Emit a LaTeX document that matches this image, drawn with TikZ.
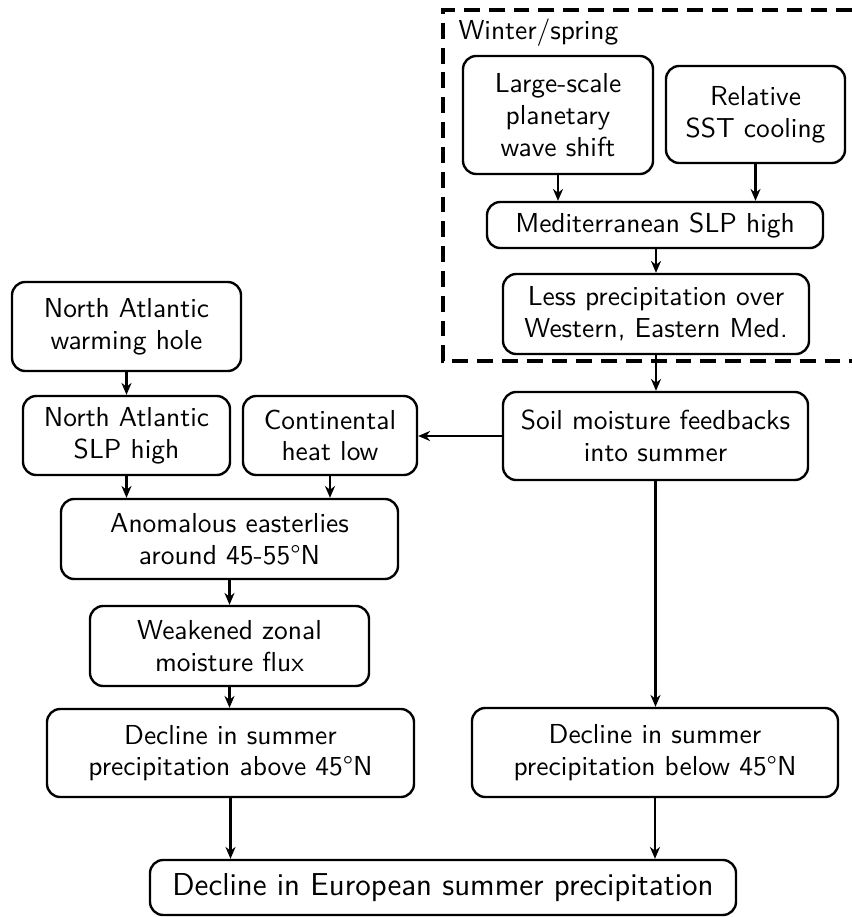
\documentclass[tikz,border=0pt]{standalone}
\usetikzlibrary{arrows.meta}
\begin{document}
\begin{tikzpicture}[x=0.3788pt,y=-0.3788pt,
  font=\sffamily\fontsize{10.4pt}{12pt}\selectfont,
  bx/.style 2 args={draw, line width=0.9pt, rounded corners=5pt, align=center,
    inner sep=0pt, minimum width={#1*0.3788pt}, minimum height={#2*0.3788pt}},
  conn/.style={line width=0.8pt, -{Stealth[length=4.5pt,width=3.8pt]}},
  region/.style={line width=1.3pt, dash pattern=on 6pt off 3.4pt}]
\useasboundingbox (0,0) rectangle (852,917);
% dashed winter/spring region
\coordinate (rtop) at (852,10);
\coordinate (rbot) at (852,361);
\draw[region] (rtop) -- (443,10) -- (443,361) -- (rbot);
\node[anchor=base west, inner sep=0pt] (wlabel) at (458,40) {Winter/spring};
% nodes
\node[bx={190}{118}] (large) at (558,115) {Large-scale\\planetary\\wave shift};
\node[bx={179}{97}] (sst) at (755.5,114.5) {Relative\\SST cooling};
\node[bx={336}{46}] (med) at (655,225) {Mediterranean SLP high};
\node[bx={306}{80}] (less) at (656,314) {Less precipitation over\\Western, Eastern Med.};
\node[bx={305}{88}] (soil) at (655.5,436) {Soil moisture feedbacks\\into summer};
\node[bx={229}{89}] (warm) at (126.5,326.5) {North Atlantic\\warming hole};
\node[bx={207}{79}] (naslp) at (126.5,435.5) {North Atlantic\\SLP high};
\node[bx={174}{79}] (cont) at (330,435.5) {Continental\\heat low};
\node[bx={337}{80}] (anom) at (229.5,539) {Anomalous easterlies\\around 45-55\textdegree N};
\node[bx={279}{80}] (weak) at (229.5,646) {Weakened zonal\\moisture flux};
\node[bx={367}{88}] (above) at (230.5,753) {Decline in summer\\precipitation above 45\textdegree N};
\node[bx={366}{89}] (below) at (655,752.5) {Decline in summer\\precipitation below 45\textdegree N};
\node[bx={586}{55}] (bottom) at (443,887.5) {\fontsize{12pt}{14pt}\selectfont Decline in European summer precipitation};
% connectors
\draw[conn] (large.south) -- (large.south |- med.north);
\draw[conn] (sst.south) -- (sst.south |- med.north);
\draw[conn] (med.south -| less.north) -- (less.north);
\draw[conn] (less.south) -- (less.south |- soil.north);
\draw[conn] (soil.west) -- (soil.west -| cont.east);
\draw[conn] (soil.south) -- (soil.south |- below.north);
\draw[conn] (warm.south) -- (naslp.north);
\draw[conn] (naslp.south) -- (naslp.south |- anom.north);
\draw[conn] (cont.south) -- (cont.south |- anom.north);
\draw[conn] (anom.south) -- (anom.south |- weak.north);
\draw[conn] (weak.south) -- (weak.south |- above.north);
\draw[conn] (above.south) -- (above.south |- bottom.north);
\draw[conn] (below.south) -- (below.south |- bottom.north);
\end{tikzpicture}
\end{document}
